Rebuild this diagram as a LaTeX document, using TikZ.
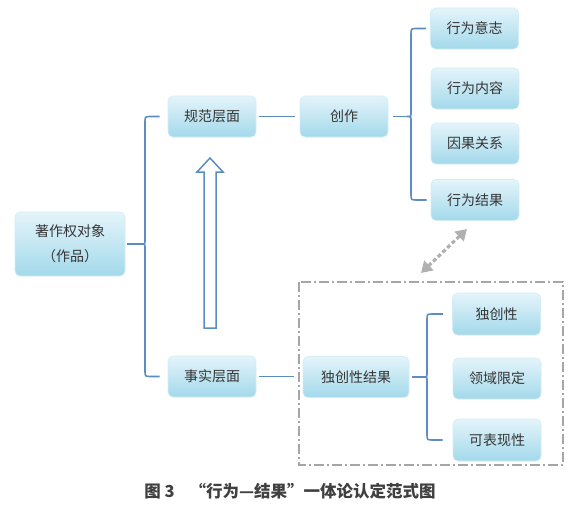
\documentclass[tikz,border=0pt]{standalone}
\usepackage{fontspec}
\setmainfont{Noto Sans CJK SC}
\usetikzlibrary{arrows.meta,calc}
\definecolor{brk}{HTML}{5B8CC2}
\definecolor{boxtop}{HTML}{E4F4FA}
\definecolor{boxbot}{HTML}{A3D9EB}
\definecolor{boxedge}{HTML}{D2ECF5}
\definecolor{txt}{HTML}{353535}
\definecolor{capc}{HTML}{404040}
\definecolor{dashc}{HTML}{A6A6A6}
\definecolor{arrc}{HTML}{B0B0B0}
\begin{document}
\begin{tikzpicture}[x=1pt,y=-1pt,
  box/.style={rounded corners=5pt, top color=boxtop, bottom color=boxbot, draw=boxedge, line width=0.6pt,
    minimum width=88pt, minimum height=41pt, inner sep=0pt, text=txt, font=\fontsize{14}{16}\selectfont},
  brace/.style={draw=brk, line width=1.6pt, line join=round, line cap=butt},
  dashbox/.style={draw=dashc, line width=1.3pt, dash pattern=on 10pt off 3pt on 2pt off 3pt},
  linkarrow/.style={draw=arrc, line width=3.2pt, dash pattern=on 4pt off 2.5pt,
    {Triangle[width=13pt,length=11pt]}-{Triangle[width=13pt,length=11pt]}},
  hollow/.style={draw=brk, line width=1.5pt, fill=white, line join=miter}
  ]
\useasboundingbox (0,0) rectangle (587,506);

% nodes
\node[box, minimum width=110pt, minimum height=64pt, align=center] (obj) at (70,244) {著作权对象\\[9pt]（作品）};
\node[box] (norm) at (212,116.5) {规范层面};
\node[box] (create) at (344,116.5) {创作};
\node[box] (w1) at (474.5,28.5) {行为意志};
\node[box] (w2) at (475,88.5) {行为内容};
\node[box] (w3) at (475,143.5) {因果关系};
\node[box] (w4) at (475,200) {行为结果};
\node[box] (fact) at (212,376.5) {事实层面};
\node[box, minimum width=106pt] (orig) at (356,377) {独创性结果};
\node[box, minimum height=42pt] (o1) at (496.5,314) {独创性};
\node[box] (o2) at (497,378.5) {领域限定};
\node[box, minimum height=42pt] (o3) at (497,440) {可表现性};

% brace 1: obj -> norm / fact
\coordinate (b1c) at (141,244);
\draw[brace] ([xshift=2pt]obj.east) -- (b1c);
\draw[brace] ([xshift=-8pt]norm.west) -- (151,116.5) .. controls (145,116.5) .. (145,122.5)
  -- (145,240) .. controls (145,244) .. (b1c) .. controls (145,244) .. (145,248)
  -- (145,370.5) .. controls (145,376.5) .. (151,376.5) -- ([xshift=-8pt]fact.west);

% brace 2: create -> w1 .. w4
\coordinate (b2c) at (407,116.5);
\draw[brace] ([xshift=5pt]create.east) -- (b2c);
\draw[brace] ([xshift=-4pt]w1.west) -- (417,28.5) .. controls (411,28.5) .. (411,34.5)
  -- (411,112.5) .. controls (411,116.5) .. (b2c) .. controls (411,116.5) .. (411,120.5)
  -- (411,194) .. controls (411,200) .. (417,200) -- ([xshift=-4pt]w4.west);

% brace 3: orig -> o1 .. o3
\coordinate (b3c) at (423,377);
\draw[brace] ([xshift=3pt]orig.east) -- (b3c);
\draw[brace] ([xshift=-9pt]o1.west) -- (433,314) .. controls (427,314) .. (427,320)
  -- (427,373) .. controls (427,377) .. (b3c) .. controls (427,377) .. (427,381)
  -- (427,434) .. controls (427,440) .. (433,440) -- ([xshift=-10pt]o3.west);

% straight links
\draw[brace] ([xshift=3pt]norm.east) -- ([xshift=-5pt]create.west);
\draw[brace] ([xshift=3pt]fact.east) -- ([xshift=-9pt]fact.east -| orig.west);

% dashed region
\draw[dashbox] (299,282) rectangle (563,465);

% grey dotted double arrow
\coordinate (da1) at (421,273);
\coordinate (da2) at (467,229);
\draw[linkarrow] (da1) -- (da2);

% hollow upward arrow
\draw[hollow] (204,328) -- (204,172) -- (197,172) -- (210,158) -- (223,172) -- (216,172) -- (216,328) -- cycle;

% caption
\node[font=\fontsize{16.5}{19}\selectfont\bfseries, text=capc] (cap) at (290,491) {图 3\hspace{0.9em}“行为—结果”一体论认定范式图};
\end{tikzpicture}
\end{document}
